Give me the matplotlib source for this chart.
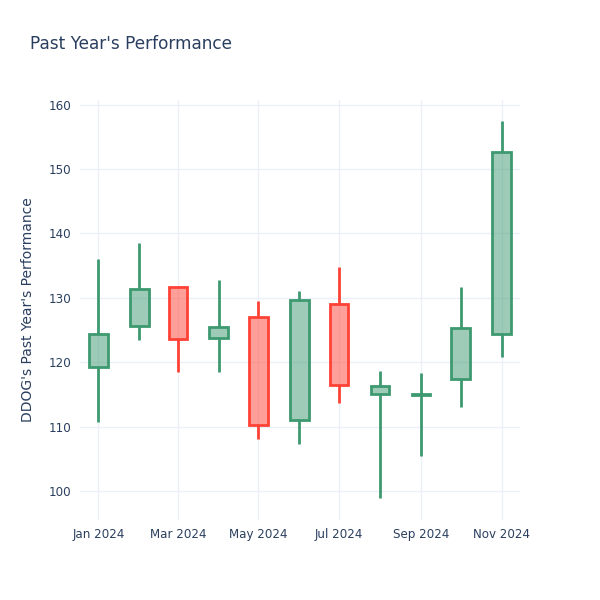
import matplotlib
matplotlib.use("Agg")
import matplotlib.pyplot as plt
import matplotlib.dates as mdates
from matplotlib.colors import to_rgba
import numpy as np
import pandas as pd

# monthly OHLC values
months = ["2024-01-01", "2024-02-01", "2024-03-01", "2024-04-01", "2024-05-01", "2024-06-01",
          "2024-07-01", "2024-08-01", "2024-09-01", "2024-10-01", "2024-11-01"]
opens = [119.2, 125.6, 131.7, 123.8, 127.0, 111.0, 129.0, 115.0, 114.9, 117.4, 124.4]
highs = [136.0, 138.5, 131.9, 132.8, 129.5, 131.0, 134.7, 118.6, 118.3, 131.7, 157.4]
lows = [110.7, 123.4, 118.4, 118.5, 108.1, 107.3, 113.6, 98.9, 105.4, 113.1, 120.8]
closes = [124.35, 131.4, 123.6, 125.4, 110.2, 129.6, 116.5, 116.3, 115.1, 125.3, 152.7]

dates = pd.to_datetime(months)
text_color = "#2a3f5f"
up_color = "#3D9970"
down_color = "#FF4136"

fig = plt.figure(figsize=(6, 6), dpi=100)
ax = fig.add_axes([80 / 600, 80 / 600, 440 / 600, 420 / 600])

x = mdates.date2num(dates)
o = np.array(opens)
c = np.array(closes)
h = np.array(highs)
l = np.array(lows)
colors = [up_color if cc >= oo else down_color for oo, cc in zip(o, c)]
body_lo = np.minimum(o, c)
body_hi = np.maximum(o, c)

# wicks above and below each body
ax.vlines(x, l, body_lo, colors=colors, linewidth=2, zorder=2)
ax.vlines(x, body_hi, h, colors=colors, linewidth=2, zorder=2)

# bodies
ax.bar(x, body_hi - body_lo, bottom=body_lo, width=14,
       facecolor=[to_rgba(col, 0.5) for col in colors],
       edgecolor=colors, linewidth=2, zorder=3)

ax.set_xlim(mdates.date2num(pd.Timestamp("2023-12-18")), mdates.date2num(pd.Timestamp("2024-11-15")))
ax.set_ylim(95.5, 160.7)

ax.xaxis.set_major_locator(mdates.MonthLocator(bymonth=[1, 3, 5, 7, 9, 11]))
ax.xaxis.set_major_formatter(mdates.DateFormatter("%b %Y"))
ax.set_yticks([100, 110, 120, 130, 140, 150, 160])

ax.grid(True, color="#EBF0F8", linewidth=1, zorder=0)
ax.set_axisbelow(True)
for s in ax.spines.values():
    s.set_visible(False)
ax.tick_params(length=0, colors=text_color, labelsize=8.6, pad=6)

ax.set_ylabel("DDOG's Past Year's Performance", color=text_color, fontsize=10, labelpad=10)
fig.text(30 / 600, 1 - 44 / 600, "Past Year's Performance", color=text_color,
         fontsize=12.2, va="center", ha="left")

fig.savefig("out.png", dpi=100)
